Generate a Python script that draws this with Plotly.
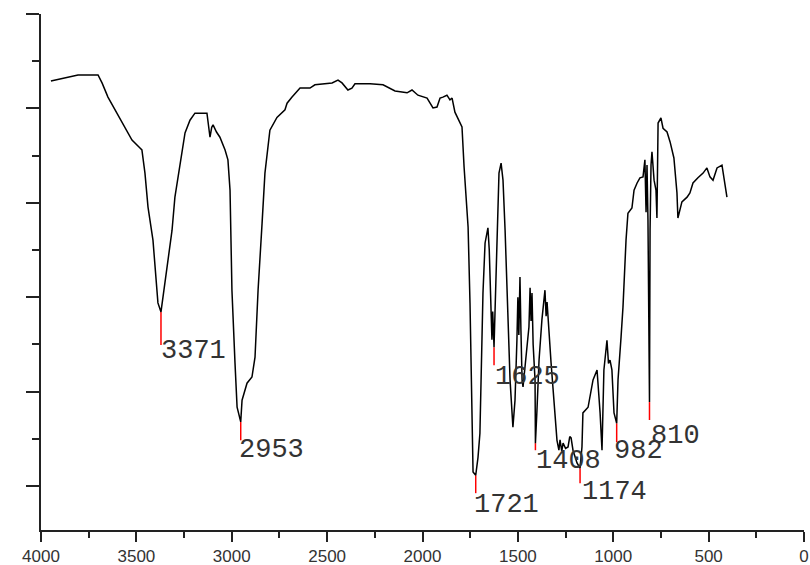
import plotly.graph_objects as go

# IR spectrum, wavenumber (cm-1) vs transmittance (arbitrary %T)
wavenumber = [
    3948, 3874, 3806, 3701, 3680, 3649, 3596, 3549, 3523, 3481,
    3471, 3455, 3439, 3413, 3397, 3387, 3371, 3360, 3339, 3313,
    3298, 3271, 3245, 3219, 3193, 3130, 3114, 3105, 3098, 3080,
    3062, 3035, 3020, 3009, 2999, 2983, 2972, 2953, 2946, 2920,
    2894, 2878, 2862, 2841, 2826, 2800, 2763, 2721, 2710, 2684,
    2642, 2590, 2564, 2474, 2443, 2422, 2391, 2370, 2354, 2275,
    2207, 2144, 2081, 2055, 2024, 1976, 1945, 1924, 1908, 1893,
    1872, 1856, 1845, 1830, 1814, 1793, 1782, 1772, 1761, 1751,
    1740, 1735, 1721, 1709, 1699, 1688, 1683, 1672, 1657, 1650,
    1645, 1641, 1636, 1632, 1625, 1620, 1609, 1599, 1588, 1578,
    1567, 1552, 1541, 1526, 1515, 1505, 1500, 1495, 1489, 1484,
    1478, 1473, 1457, 1442, 1436, 1431, 1426, 1420, 1410, 1408,
    1400, 1389, 1374, 1358, 1352, 1347, 1326, 1305, 1295, 1285,
    1279, 1270, 1263, 1250, 1237, 1228, 1221, 1211, 1190, 1174,
    1164, 1159, 1148, 1132, 1106, 1085, 1069, 1059, 1049, 1040,
    1033, 1025, 1017, 1007, 996, 982, 975, 959, 949, 933,
    923, 902, 891, 875, 860, 844, 834, 828, 823, 818,
    810, 807, 802, 797, 786, 776, 771, 765, 750, 739,
    718, 702, 682, 666, 661, 640, 613, 598, 582, 556,
    529, 509, 493, 477, 456, 430, 419, 404,
]
transmittance = [
    85.8, 86.4, 87.1, 87.1, 85.4, 82.4, 78.6, 75.0, 73.3, 71.6,
    71.2, 66.3, 59.1, 52.1, 43.6, 38.8, 36.9, 40.0, 45.8, 54.2,
    61.2, 68.4, 74.8, 77.5, 79.0, 79.0, 73.9, 76.0, 76.5, 75.0,
    73.9, 71.2, 69.1, 62.7, 41.5, 26.1, 16.7, 13.6, 18.2, 21.8,
    23.1, 27.3, 41.5, 55.7, 66.3, 75.4, 78.1, 79.7, 81.1, 82.4,
    84.3, 84.3, 85.0, 85.4, 86.0, 85.4, 83.9, 84.3, 85.2, 85.2,
    85.0, 83.7, 83.3, 83.9, 82.8, 82.2, 80.1, 80.3, 82.2, 82.4,
    82.8, 81.8, 82.2, 79.2, 78.0, 76.1, 67.6, 62.1, 54.9, 38.8,
    11.9, 3.0, 2.3, 6.1, 11.2, 28.2, 40.9, 51.5, 54.7, 50.0,
    41.0, 36.7, 31.0, 37.0, 29.4, 36.7, 55.7, 66.3, 68.4, 64.8,
    54.2, 36.7, 22.5, 12.5, 18.2, 30.9, 40.0, 32.0, 44.3, 33.0,
    22.5, 21.0, 27.3, 33.7, 42.0, 35.0, 40.9, 30.0, 22.5, 9.1,
    16.0, 26.7, 35.2, 41.5, 36.0, 39.0, 26.1, 15.5, 9.7, 7.6,
    9.8, 7.4, 9.1, 8.0, 8.3, 10.5, 10.2, 7.6, 4.9, 3.8,
    8.3, 15.5, 16.0, 16.7, 22.5, 24.6, 15.5, 7.6, 24.6, 29.0,
    30.9, 26.0, 26.7, 24.6, 15.5, 13.3, 22.5, 31.6, 37.9, 52.1,
    57.8, 58.9, 62.7, 64.2, 65.3, 65.5, 69.1, 58.0, 68.0, 56.4,
    17.8, 54.2, 68.0, 70.8, 64.8, 62.7, 56.8, 76.9, 78.0, 75.8,
    75.0, 72.9, 69.5, 62.1, 56.8, 60.2, 61.2, 62.1, 64.2, 65.3,
    66.3, 67.4, 65.5, 64.8, 67.4, 68.0, 65.3, 61.2,
]

# Labelled peaks
peak_wn = [3371, 2953, 1721, 1625, 1408, 1174, 982, 810]
peak_t = [36.9, 13.6, 2.3, 29.4, 9.1, 3.8, 13.3, 17.8]
marker_end_t = [29.9, 9.7, -1.5, 25.6, 7.6, 0.6, 9.3, 14.0]
label_x = [3379, 2970, 1743, 1633, 1413, 1172, 1009, 810]
label_t = [32.3, 11.3, -0.5, 26.8, 9.0, 2.4, 11.1, 14.3]

x_ticks = [4000, 3500, 3000, 2500, 2000, 1500, 1000, 500, 0]

fig = go.Figure()

# red peak markers
for w, t0, t1 in zip(peak_wn, peak_t, marker_end_t):
    fig.add_trace(go.Scatter(x=[w, w], y=[t0, t1], mode="lines",
                             line=dict(color="#ff0000", width=1.5),
                             showlegend=False, hoverinfo="skip"))

fig.add_trace(go.Scatter(x=wavenumber, y=transmittance, mode="lines",
                         line=dict(color="#000000", width=1.5),
                         showlegend=False))

for w, lx, lt in zip(peak_wn, label_x, label_t):
    fig.add_annotation(x=lx, y=lt, text=str(w), showarrow=False,
                       xanchor="left", yanchor="top",
                       font=dict(family="Liberation Mono", size=27, color="#333333"))

fig.update_layout(
    width=810, height=565,
    margin=dict(l=41, r=6, t=14, b=35, autoexpand=False),
    paper_bgcolor="white", plot_bgcolor="white",
    showlegend=False,
)
fig.update_xaxes(
    automargin=False,
    range=[4000, 0], tickvals=x_ticks, ticktext=[str(v) for v in x_ticks],
    showgrid=False, zeroline=False,
    showline=True, linecolor="#222222", linewidth=2,
    ticks="outside", ticklen=10, tickwidth=2, tickcolor="#222222",
    minor=dict(tickvals=[3750, 3250, 2750, 2250, 1750, 1250, 750, 250],
               ticks="outside", ticklen=6, tickwidth=2, tickcolor="#222222"),
    tickfont=dict(family="Liberation Sans", size=17, color="#333333"),
)
fig.update_yaxes(
    automargin=False,
    range=[-9.3, 100], tickvals=[0, 20, 40, 60, 80, 100],
    showticklabels=False, showgrid=False, zeroline=False,
    showline=True, linecolor="#222222", linewidth=2,
    ticks="outside", ticklen=13, tickwidth=2, tickcolor="#222222",
    minor=dict(tickvals=[10, 30, 50, 70, 90],
               ticks="outside", ticklen=7, tickwidth=2, tickcolor="#222222"),
)

fig.write_html("out.html")
